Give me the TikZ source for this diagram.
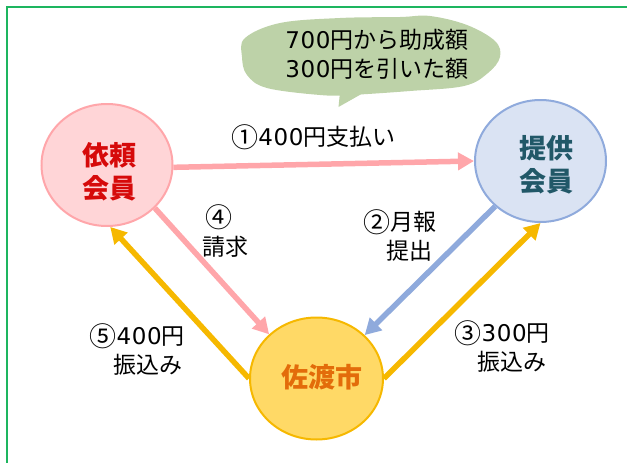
\documentclass[tikz,border=0pt]{standalone}
\usepackage{fontspec}
\setmainfont{Noto Sans CJK JP}
\newfontfamily\digfont[LetterSpace=3]{DejaVu Sans}
\usetikzlibrary{arrows.meta,shapes.geometric}
\definecolor{framegreen}{HTML}{1DB55F}
\definecolor{bubblegreen}{HTML}{BDD2A8}
\definecolor{pinkline}{HTML}{FFA6AA}
\definecolor{pinkfill}{HTML}{FFD5D7}
\definecolor{blueline}{HTML}{8FAADC}
\definecolor{bluefill}{HTML}{DAE3F3}
\definecolor{goldline}{HTML}{F6B800}
\definecolor{goldfill}{HTML}{FFD966}
\definecolor{redtext}{HTML}{D60A0A}
\definecolor{tealtext}{HTML}{215868}
\definecolor{orangetext}{HTML}{E36C0A}
\newcommand{\dg}[1]{{\digfont\fontsize{23}{29}\selectfont #1}}
\newcommand{\cn}[1]{\raisebox{-1.5pt}{\fontsize{27}{29}\selectfont #1}}
\newcommand{\shft}[3]{\raisebox{-#2pt}[0.9em][0.2em]{\hspace*{#1pt}#3}}
\tikzset{
  member/.style={ellipse,draw,line width=2pt,minimum width=131pt,minimum height=122pt,inner sep=0pt,
    align=center,font=\fontsize{27}{33}\selectfont\bfseries},
  flow/.style={line width=5.5pt,-{Triangle[length=16pt,width=17pt]},shorten >=0pt},
  lab/.style={inner sep=0pt,font=\fontsize{23}{29}\selectfont,text=black},
}
\begin{document}
\begin{tikzpicture}[x=1pt,y=-1pt]
\useasboundingbox (0,0) rectangle (627,463);
\draw[framegreen,line width=1.5pt] (7,463) -- (7,7) -- (627,7);
% bubble
\fill[bubblegreen] plot[smooth cycle,tension=0.6] coordinates {(245,38) (280,23) (340,18) (400,17) (430,16) (467,25) (495,41) (500,57) (488,73) (464,86) (410,91) (350,95) (320,95) (267,88) (247,75) (242,57)};
\fill[bubblegreen] (340,92) -- (338.5,107) -- (365,92) -- cycle;
\node[lab,align=left] (note) at (377,54) {\dg{700}円から助成額\\\dg{300}円を引いた額};
% members
\node[member,fill=pinkfill,draw=pinkline,text=redtext] (req) at (107,165) {\shft{4}{8}{依頼}\\\shft{4}{8}{会員}};
\node[member,fill=bluefill,draw=blueline,text=tealtext] (pro) at (540.5,161) {\shft{11}{4.5}{提供}\\\shft{11}{4.5}{会員}};
\node[member,fill=goldfill,draw=goldline,text=orangetext,minimum width=133pt] (city) at (316.5,378.5) {\shft{10}{0}{佐渡市}};
% flows
\draw[flow,pinkline] (req.-2) -- (pro.180);
\draw[flow,pinkline] (req.-42) -- (city.137);
\draw[flow,blueline] (pro.225) -- (city.42);
\draw[flow,goldline] (city.0) -- (pro.270);
\draw[flow,goldline] (city.180) -- (req.-87);
% labels
\node[lab] (l1) at (313.5,137) {\cn{①}\dg{400}円支払い};
\node[lab,align=right,anchor=east] (l2) at (437,235.5) {\cn{②}月報\\提出\hspace*{4pt}};
\node[lab,align=center] (l4) at (219,231) {\cn{④}\\\hspace*{12pt}請求};
\node[lab,align=right,anchor=east] (l5) at (185,349.5) {\cn{⑤}\dg{400}円\\振込み\hspace*{2pt}};
\node[lab,align=right,anchor=east] (l3) at (550,346.5) {\cn{③}\dg{300}円\\振込み\hspace*{3pt}};
\end{tikzpicture}
\end{document}
